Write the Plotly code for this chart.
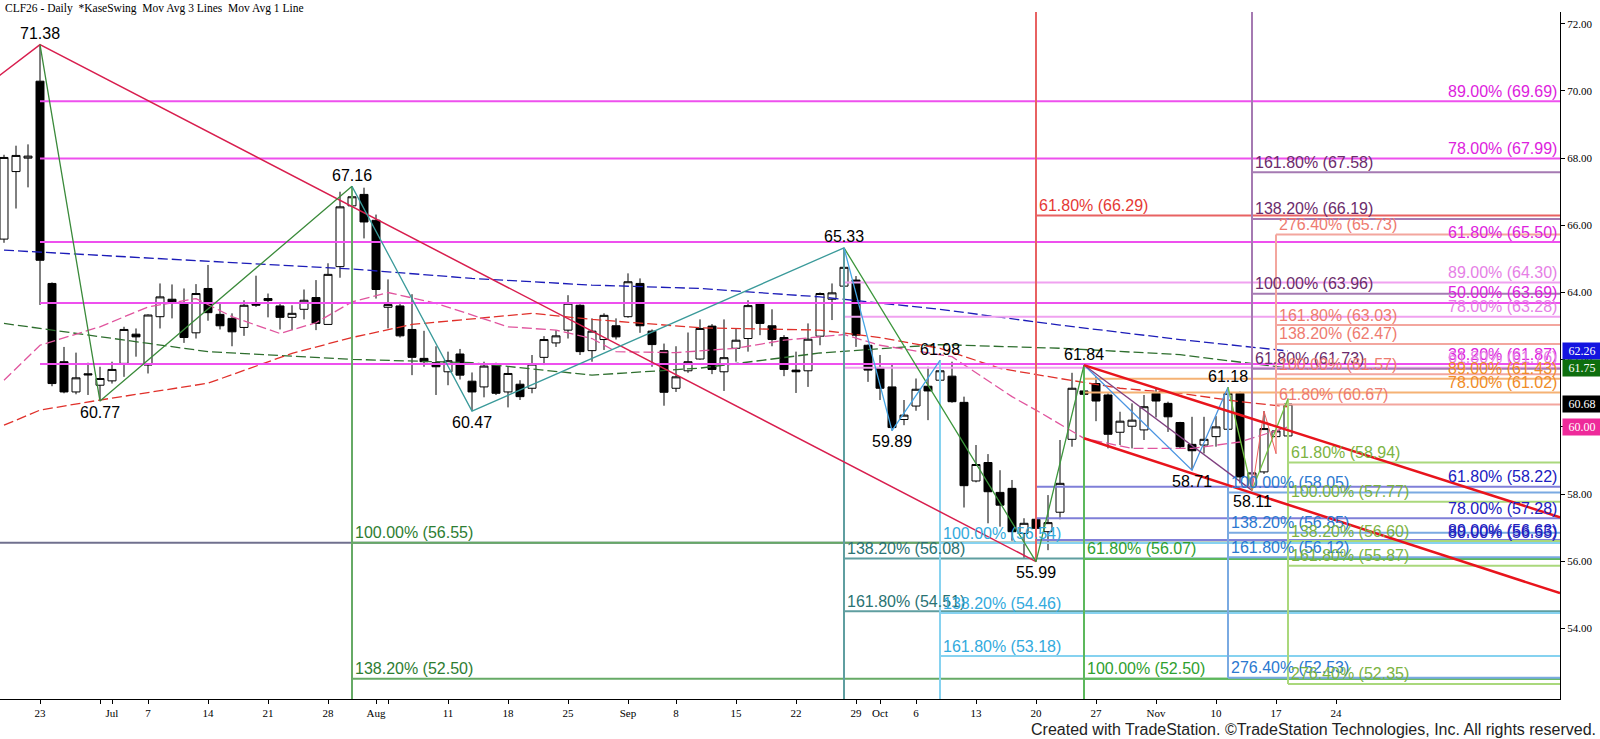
#%%
import pandas as pd
import plotly.graph_objects as go

#%%
# CLF26 daily bars
holidays = ["2025-07-04", "2025-09-01"]
dates = pd.bdate_range("2025-06-18", "2025-11-18")
dates = dates[~dates.isin(pd.to_datetime(holidays))]

opens = [65.59, 67.60, 68.00, 70.29, 64.27, 61.94, 61.04, 61.58, 61.24, 61.37,
         61.89, 62.76, 61.84, 63.28, 63.80, 63.66, 62.80, 64.12, 63.35, 63.23,
         62.96, 63.70, 63.82, 63.60, 63.26, 63.50, 63.85, 63.05, 64.77, 66.58,
         66.92, 66.15, 63.56, 63.60, 62.90, 62.04, 61.91, 61.64, 62.17, 61.36,
         61.19, 61.84, 61.04, 61.27, 61.15, 62.07, 62.50, 62.88, 63.62, 62.27,
         62.60, 63.01, 63.28, 64.27, 62.85, 62.27, 61.15, 61.67, 62.02, 63.00,
         61.64, 62.34, 62.63, 63.66, 63.01, 62.66, 61.69, 61.67, 62.70, 63.80,
         64.19, 64.37, 62.43, 61.77, 61.19, 60.22, 60.62, 61.21, 61.39, 61.51,
         60.73, 58.39, 58.94, 58.05, 58.17, 56.83, 57.25, 56.88, 57.46, 59.63,
         61.07, 61.29, 60.95, 59.84, 60.02, 59.91, 61.00, 60.70, 60.13, 59.48,
         59.46, 59.71, 59.93, 61.00, 58.22, 58.66, 59.71, 59.73]
highs = [68.10, 68.37, 68.41, 71.38, 64.30, 62.38, 62.21, 61.91, 61.79, 61.94,
         62.98, 62.93, 63.35, 64.27, 64.24, 64.12, 64.25, 64.82, 63.68, 63.38,
         63.77, 64.50, 63.97, 63.71, 63.62, 64.09, 64.37, 64.87, 67.00, 67.16,
         67.12, 66.32, 64.39, 63.72, 63.95, 62.86, 62.40, 62.24, 62.32, 61.62,
         61.94, 61.91, 61.79, 61.39, 62.14, 62.70, 62.88, 63.92, 63.65, 63.23,
         63.38, 63.23, 64.57, 64.42, 62.90, 62.48, 62.40, 62.81, 63.20, 63.06,
         63.20, 62.93, 63.77, 63.72, 63.50, 62.73, 62.24, 63.08, 64.00, 64.27,
         65.33, 64.49, 62.45, 62.14, 61.89, 60.80, 61.44, 61.79, 61.98, 61.94,
         60.90, 59.46, 59.19, 58.71, 58.42, 57.28, 57.38, 57.97, 59.61, 61.61,
         61.84, 61.49, 61.00, 60.45, 60.70, 60.95, 61.15, 60.75, 60.15, 60.30,
         60.30, 60.32, 61.18, 61.05, 58.90, 60.47, 60.40, 60.84]
lows = [65.48, 66.50, 67.13, 63.63, 61.21, 61.00, 60.97, 60.95, 60.77, 61.29,
        61.49, 62.09, 61.59, 62.93, 63.23, 62.50, 62.63, 63.16, 62.90, 62.40,
        62.71, 63.57, 63.26, 62.90, 62.88, 63.20, 62.88, 63.05, 64.44, 65.81,
        65.61, 63.82, 62.93, 62.66, 61.54, 61.79, 60.95, 61.24, 61.41, 60.47,
        60.88, 60.95, 60.58, 60.80, 61.00, 61.84, 62.38, 62.63, 62.14, 61.94,
        62.29, 62.60, 63.25, 62.80, 61.79, 60.63, 61.04, 61.61, 62.00, 61.57,
        61.07, 61.94, 62.24, 62.73, 62.40, 61.51, 61.01, 61.19, 62.43, 63.18,
        64.00, 62.38, 61.34, 60.80, 59.89, 60.05, 60.48, 60.20, 61.29, 60.72,
        57.60, 58.35, 57.13, 57.03, 56.61, 56.10, 55.99, 56.33, 57.25, 59.41,
        60.60, 60.17, 59.36, 59.46, 59.36, 59.61, 60.28, 59.85, 59.36, 58.71,
        59.21, 59.41, 59.61, 58.32, 58.11, 58.60, 59.21, 59.50]
closes = [68.02, 68.08, 68.06, 64.96, 61.29, 61.04, 61.46, 61.55, 61.44, 61.71,
          62.90, 62.68, 63.33, 63.87, 63.72, 62.66, 63.97, 63.40, 63.01, 62.83,
          63.62, 63.62, 63.76, 63.26, 63.38, 63.77, 63.08, 64.54, 66.55, 66.85,
          66.10, 64.09, 63.64, 62.71, 62.07, 61.94, 61.79, 61.97, 61.54, 61.04,
          61.81, 61.00, 61.59, 60.90, 61.87, 62.60, 62.71, 63.68, 62.24, 62.85,
          63.32, 62.68, 64.32, 63.01, 62.45, 61.03, 61.49, 61.94, 62.93, 61.71,
          62.06, 62.58, 63.61, 63.08, 62.60, 61.71, 61.64, 62.61, 63.97, 63.99,
          64.75, 62.73, 61.69, 61.15, 59.98, 60.35, 61.12, 61.07, 61.67, 60.75,
          58.25, 58.88, 58.07, 57.67, 56.88, 57.13, 56.98, 57.15, 58.32, 61.15,
          60.97, 60.77, 59.78, 60.17, 60.20, 60.60, 60.77, 60.30, 59.41, 59.29,
          59.63, 60.00, 61.00, 58.51, 58.63, 59.95, 59.88, 60.68]

# moving averages, sampled off the chart
blue_ma_dates = ["2025-06-18", "2025-06-30", "2025-07-14", "2025-07-30", "2025-08-13", "2025-08-27",
                 "2025-09-10", "2025-09-24", "2025-10-08", "2025-10-22", "2025-11-05", "2025-11-18"]
blue_ma = [65.26, 65.11, 64.94, 64.70, 64.42, 64.22, 64.12, 63.87, 63.50, 63.03, 62.60, 62.26]
green_ma_dates = blue_ma_dates
green_ma = [63.08, 62.68, 62.24, 62.01, 61.91, 61.54, 61.75, 62.20, 62.45, 62.34, 62.15, 61.75]
red_ma_dates = ["2025-06-18", "2025-06-23", "2025-06-30", "2025-07-14", "2025-07-23", "2025-07-30",
                "2025-08-06", "2025-08-20", "2025-08-27", "2025-09-10", "2025-09-24", "2025-10-01",
                "2025-10-08", "2025-10-15", "2025-10-22", "2025-10-29", "2025-11-05", "2025-11-12",
                "2025-11-18"]
red_ma = [60.05, 60.50, 60.80, 61.30, 62.19, 62.66, 63.05, 63.38, 63.20, 62.95, 62.88, 62.66,
          62.34, 61.74, 61.44, 61.15, 61.00, 60.75, 60.60]
pink_ma_dates = ["2025-06-18", "2025-06-23", "2025-06-30", "2025-07-07", "2025-07-11", "2025-07-16",
                 "2025-07-22", "2025-07-25", "2025-07-30", "2025-08-04", "2025-08-08", "2025-08-13",
                 "2025-08-18", "2025-08-22", "2025-08-27", "2025-08-29", "2025-09-08", "2025-09-15",
                 "2025-09-19", "2025-09-26", "2025-10-01", "2025-10-09", "2025-10-16", "2025-10-20",
                 "2025-10-24", "2025-10-30", "2025-11-06", "2025-11-12", "2025-11-18"]
pink_ma = [61.39, 62.43, 62.98, 63.57, 63.82, 63.28, 62.78, 63.10, 63.72, 64.00, 63.68, 63.33,
           62.98, 62.88, 62.63, 62.24, 62.21, 62.34, 62.58, 62.75, 62.43, 62.09, 60.90, 60.50,
           59.66, 59.36, 59.36, 59.55, 60.00]

# swing pivots
pivot_dates = ["2025-06-23", "2025-06-30", "2025-07-30", "2025-08-13", "2025-09-26", "2025-10-02",
               "2025-10-08", "2025-10-20", "2025-10-24", "2025-11-06", "2025-11-11", "2025-11-13"]
pivot_prices = [71.38, 60.77, 67.16, 60.47, 65.33, 59.89, 61.98, 55.99, 61.84, 58.71, 61.18, 58.11]
pivot_above = [True, False, True, False, True, False, True, False, True, False, True, False]

# zigzag swing lines
zz_crimson = (["2025-06-17", "2025-06-23", "2025-10-20"], [70.29, 71.38, 55.99])
zz_green1 = (["2025-06-23", "2025-06-30", "2025-07-30"], [71.38, 60.77, 67.16])
zz_teal = (["2025-07-30", "2025-08-13", "2025-09-26"], [67.16, 60.47, 65.33])
zz_green2 = (["2025-09-26", "2025-10-20", "2025-10-24"], [65.33, 55.99, 61.84])
zz_sky = (["2025-09-26", "2025-10-02", "2025-10-08"], [65.33, 59.89, 61.98])
zz_blue = (["2025-10-24", "2025-11-06", "2025-11-11"], [61.84, 58.71, 61.18])
zz_purple = (["2025-10-24", "2025-11-13"], [61.84, 58.11])
zz_lime = (["2025-11-11", "2025-11-13", "2025-11-18"], [61.18, 58.11, 60.84])
zz_red = (["2025-11-13", "2025-11-14", "2025-11-17"], [58.11, 60.47, 59.21])

X_START = "2025-06-17 16:00"
X_END = "2025-12-18 16:00"
Y_MIN, Y_MAX = 51.9, 72.35

# trend channel (start and right-edge values)
chan_upper = (["2025-10-24", X_END], [61.84, 57.31])
chan_lower = (["2025-10-24", X_END], [59.66, 55.05])

# fib retracements, label at right edge
mag_levels = [69.69, 67.99, 65.50, 63.69, 61.87]
mag_pcts = ["89.00%", "78.00%", "61.80%", "50.00%", "38.20%"]
pink_levels = [64.30, 63.28, 61.76]
pink_pcts = ["89.00%", "78.00%", "61.80%"]
orange_levels = [61.43, 61.02]
orange_pcts = ["89.00%", "78.00%"]
slate_levels = [58.22, 57.28, 56.63]
slate_pcts = ["61.80%", "78.00%", "89.00%"]
gray_levels = [56.55]
gray_pcts = ["80.00%"]

# fib extensions, label at the start
red_levels = [66.29]
red_pcts = ["61.80%"]
purple_levels = [67.58, 66.19, 63.96, 61.73]
purple_pcts = ["161.80%", "138.20%", "100.00%", "61.80%"]
salmon_levels = [65.73, 63.03, 62.47, 61.57, 60.67]
salmon_pcts = ["276.40%", "161.80%", "138.20%", "100.00%", "61.80%"]
green_levels = [56.55, 52.50]
green_pcts = ["100.00%", "138.20%"]
teal_levels = [56.08, 54.51]
teal_pcts = ["138.20%", "161.80%"]
sky_levels = [56.54, 54.46, 53.18]
sky_pcts = ["100.00%", "138.20%", "161.80%"]
lime_levels = [56.07, 52.50]
lime_pcts = ["61.80%", "100.00%"]
blue_levels = [58.05, 56.85, 56.12, 52.53]
blue_pcts = ["100.00%", "138.20%", "161.80%", "276.40%"]
yg_levels = [58.94, 57.77, 56.60, 55.87, 52.35]
yg_pcts = ["61.80%", "100.00%", "138.20%", "161.80%", "276.40%"]

# x axis ticks
tick_dates = ["2025-06-23", "2025-06-30", "2025-07-01", "2025-07-07", "2025-07-14", "2025-07-21",
              "2025-07-28", "2025-08-01", "2025-08-04", "2025-08-11", "2025-08-18", "2025-08-25",
              "2025-09-02", "2025-09-08", "2025-09-15", "2025-09-22", "2025-09-29", "2025-10-01",
              "2025-10-06", "2025-10-13", "2025-10-20", "2025-10-27", "2025-11-03", "2025-11-10",
              "2025-11-17", "2025-11-24"]
tick_text = ["23", "", "Jul", "7", "14", "21", "28", "Aug", "", "11", "18", "25", "Sep", "8", "15",
             "22", "29", "Oct", "6", "13", "20", "27", "Nov", "10", "17", "24"]
y_ticks = [54, 56, 58, 60, 62, 64, 66, 68, 70, 72]

# last value tags on the price axis
tag_vals = [62.26, 61.75, 60.68, 60.00]
tag_colors = ["#1414E0", "#0E6E0E", "#000000", "#EE2A9A"]

SANS = "Liberation Sans, Arial, sans-serif"
SERIF = "Liberation Serif, Times New Roman, serif"

#%%
fig = go.Figure()

fig.add_trace(go.Candlestick(
    x=dates, open=opens, high=highs, low=lows, close=closes,
    increasing=dict(fillcolor="white", line=dict(color="black", width=1)),
    decreasing=dict(fillcolor="black", line=dict(color="black", width=1)),
    whiskerwidth=0, hoverinfo="skip", showlegend=False,
))


def add_line(xs, ys, color, width=2, dash="solid"):
    fig.add_trace(go.Scatter(x=xs, y=ys, mode="lines", line=dict(color=color, width=width, dash=dash),
                             hoverinfo="skip", showlegend=False))


# moving averages
add_line(blue_ma_dates, blue_ma, "#1C1CB8", 1.3, "10px,4px")
add_line(green_ma_dates, green_ma, "#2E6E2E", 1.3, "10px,4px")
add_line(red_ma_dates, red_ma, "#E0302A", 1.3, "10px,4px")
add_line(pink_ma_dates, pink_ma, "#E0559E", 1.3, "10px,4px")


def fib(start, levels, pcts, line_color, text_color, label_at):
    xs, ys = [], []
    for lvl, pct in zip(levels, pcts):
        xs += [start, X_END, None]
        ys += [lvl, lvl, None]
        if label_at == "right":
            fig.add_annotation(x=X_END, y=lvl, text=f"{pct} ({lvl:.2f})", showarrow=False,
                               xanchor="right", yanchor="middle", xshift=-1, yshift=10,
                               font=dict(family=SANS, size=16, color=text_color))
        else:
            fig.add_annotation(x=start, y=lvl, text=f"{pct} ({lvl:.2f})", showarrow=False,
                               xanchor="left", yanchor="middle", xshift=1, yshift=10,
                               font=dict(family=SANS, size=16, color=text_color))
    add_line(xs, ys, line_color, 2)


fib(X_START, gray_levels, gray_pcts, "#70708E", "#2020C0", "right")
fib("2025-06-23", mag_levels, mag_pcts, "#EE50EE", "#DD22DD", "right")
fib("2025-09-26", pink_levels, pink_pcts, "#F0A2F0", "#E680E6", "right")
fib("2025-10-24", orange_levels, orange_pcts, "#F5B274", "#F08C28", "right")
fib("2025-10-20", slate_levels, slate_pcts, "#7F7FD8", "#2020C0", "right")

fib("2025-07-30", green_levels, green_pcts, "#66AA66", "#2E7D32", "left")
fib("2025-09-26", teal_levels, teal_pcts, "#5F9EA0", "#2A7373", "left")
fib("2025-10-08", sky_levels, sky_pcts, "#86D2F0", "#33AADD", "left")
fib("2025-10-20", red_levels, red_pcts, "#E86262", "#E53935", "left")
fib("2025-10-24", lime_levels, lime_pcts, "#5CB85C", "#2FA02F", "left")
fib("2025-11-11", blue_levels, blue_pcts, "#7AAAE2", "#2A78D0", "left")
fib("2025-11-13", purple_levels, purple_pcts, "#A57AB2", "#6C2C6C", "left")
fib("2025-11-17", salmon_levels, salmon_pcts, "#F3A69E", "#EE7B70", "left")
fib("2025-11-18", yg_levels, yg_pcts, "#AAD87C", "#7CB342", "left")

# vertical anchors of the fib tools
add_line(["2025-07-30", "2025-07-30"], [67.16, Y_MIN], "#66AA66")
add_line(["2025-09-26", "2025-09-26"], [65.33, Y_MIN], "#5F9EA0")
add_line(["2025-10-08", "2025-10-08"], [61.98, Y_MIN], "#86D2F0")
add_line(["2025-10-20", "2025-10-20"], [55.99, Y_MAX], "#E86262")
add_line(["2025-10-24", "2025-10-24"], [61.84, Y_MIN], "#5CB85C")
add_line(["2025-11-11", "2025-11-11"], [61.18, 52.53], "#7AAAE2")
add_line(["2025-11-13", "2025-11-13"], [58.11, Y_MAX], "#A57AB2")
add_line(["2025-11-17", "2025-11-17"], [59.21, 65.73], "#F3A69E")
add_line(["2025-11-18", "2025-11-18"], [60.84, 52.35], "#AAD87C")

# swing lines
add_line(*zz_crimson, "#D81E4E", 1.5)
add_line(*zz_green1, "#3A8A3A", 1.3)
add_line(*zz_teal, "#3A9A9A", 1.3)
add_line(*zz_green2, "#3C963C", 1.3)
add_line(*zz_sky, "#45A5E5", 1.3)
add_line(*zz_blue, "#4A95E2", 1.3)
add_line(*zz_purple, "#804080", 1.3)
add_line(*zz_lime, "#6FBF40", 1.3)
add_line(*zz_red, "#F06060", 1)
add_line(*chan_upper, "#E8141C", 2.5)
add_line(*chan_lower, "#E8141C", 2.5)

# pivot labels
for d, p, up in zip(pivot_dates, pivot_prices, pivot_above):
    fig.add_annotation(x=d, y=p, text=f"{p:.2f}", showarrow=False, xanchor="center", yanchor="middle",
                       yshift=11 if up else -11, font=dict(family=SANS, size=16, color="black"))

# price tags
for v, c in zip(tag_vals, tag_colors):
    fig.add_annotation(xref="paper", x=1, y=v, text=f"{v:.2f}", showarrow=False, xanchor="left",
                       yanchor="middle", xshift=2, bgcolor=c, borderpad=1, width=36,
                       font=dict(family=SERIF, size=12, color="white"))

fig.add_annotation(xref="paper", yref="paper", x=0.002, y=1.0058, xanchor="left", yanchor="middle",
                   text="CLF26 - Daily \u00a0*KaseSwing \u00a0Mov Avg 3 Lines \u00a0Mov Avg 1 Line",
                   showarrow=False, font=dict(family=SERIF, size=11.5, color="black"))
fig.add_annotation(xref="paper", yref="paper", x=1.0244, y=-0.0437, xanchor="right", yanchor="middle",
                   text="Created with TradeStation. ©TradeStation Technologies, Inc. All rights reserved.",
                   showarrow=False, font=dict(family=SANS, size=16, color="#222222"))

fig.update_layout(
    width=1600,
    height=739,
    margin=dict(l=0, r=40, t=12, b=40),
    paper_bgcolor="white",
    plot_bgcolor="white",
    showlegend=False,
    boxgap=0.05,
    boxgroupgap=0.3,
    xaxis=dict(
        type="date",
        range=[X_START, X_END],
        rangebreaks=[dict(bounds=["sat", "mon"]), dict(values=holidays)],
        rangeslider=dict(visible=False),
        tickvals=tick_dates,
        ticktext=tick_text,
        ticks="outside", ticklen=4, tickcolor="black",
        showline=True, linecolor="black", linewidth=1,
        showgrid=False, zeroline=False, automargin=False,
        tickfont=dict(family=SERIF, size=11, color="black"),
    ),
    yaxis=dict(
        side="right",
        range=[Y_MIN, Y_MAX],
        tickvals=y_ticks,
        ticktext=[f"{t:.2f}" for t in y_ticks],
        ticks="outside", ticklen=4, tickcolor="black",
        showline=True, linecolor="black", linewidth=1,
        showgrid=False, zeroline=False, automargin=False,
        tickfont=dict(family=SERIF, size=11, color="black"),
    ),
)

fig.write_html("out.html", config={"displayModeBar": False},
               post_script="document.body.style.margin='0';")
